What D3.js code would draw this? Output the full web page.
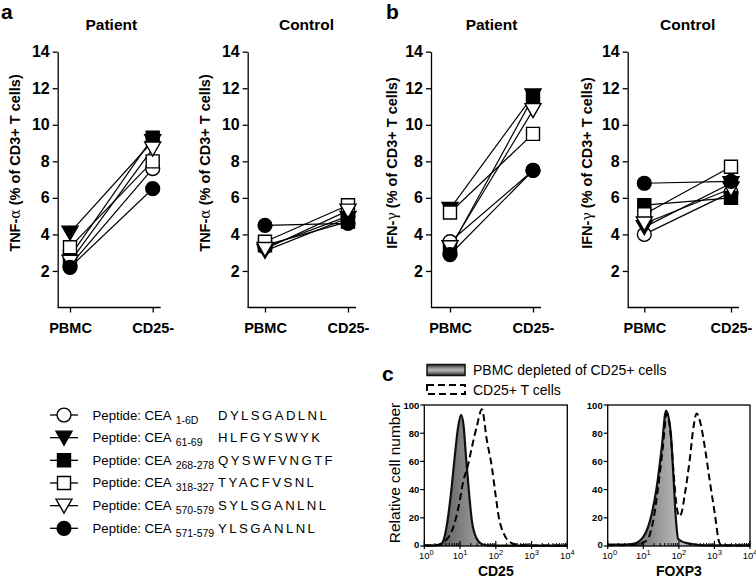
<!DOCTYPE html>
<html><head><meta charset="utf-8">
<script src="https://cdn.jsdelivr.net/npm/d3@7"></script>
<style>
body{margin:0;background:#fff;}
svg{font-family:Arial,"Liberation Sans",sans-serif;}
</style></head>
<body>
<svg id="c" width="756" height="584"></svg>
<script>
// ---------- DATA ----------
const categories = ["PBMC", "CD25-"];
const yTicks = [2, 4, 6, 8, 10, 12, 14];
const peptides = ["1-6D", "61-69", "268-278", "318-327", "570-579", "571-579"];
const sequences = ["DYLSGADLNL", "HLFGYSWYK", "QYSWFVNGTF", "TYACFVSNL", "SYLSGANLNL", "YLSGANLNL"];
const markerTypes = ["circleOpen", "triFilled", "squareFilled", "squareOpen", "triOpen", "circleFilled"];

// values per peptide: [PBMC, CD25-]
const tnfPatient = [[2.3, 7.6], [4.1, 9.1], [2.8, 9.3], [3.3, 8.0], [2.5, 8.7], [2.2, 6.5]];
const tnfControl = [[3.3, 5.0], [3.1, 4.9], [3.4, 4.7], [3.6, 5.6], [3.2, 5.3], [4.5, 4.6]];
const ifnPatient = [[3.6, 7.5], [5.4, 11.6], [3.2, 11.5], [5.2, 9.5], [3.3, 10.8], [2.9, 7.5]];
const ifnControl = [[4.0, 6.3], [4.4, 6.8], [5.6, 6.0], [5.1, 7.7], [4.6, 6.5], [6.8, 6.9]];

// histograms: [log10 fluorescence, relative cell number]
const cd25Depleted = [[0,0.5],[0.3,0.5],[0.45,1],[0.55,5],[0.65,18],[0.75,38],[0.85,63],[0.95,85],[1.03,93],[1.1,85],[1.17,62],[1.25,38],[1.33,18],[1.45,6],[1.6,1.5],[1.75,0.5],[2.5,0.3],[4,0.3]];
const cd25Positive = [[0,0.3],[0.3,0.5],[0.6,4],[0.82,14],[0.96,28],[1.1,47],[1.21,56],[1.33,70],[1.47,85],[1.61,97],[1.75,75],[1.89,56],[1.99,37],[2.08,21],[2.22,9],[2.45,2],[2.8,0.5],[4,0.3]];
const foxp3Depleted = [[0,1],[0.5,1],[0.72,1.5],[1.0,6.5],[1.19,18],[1.38,42],[1.52,70],[1.64,96],[1.77,81],[1.84,53],[1.92,18],[1.98,5],[2.22,2],[2.7,0.5],[4,0.5]];
const foxp3Positive = [[0,0.5],[0.8,1],[1.1,4],[1.28,18],[1.42,42],[1.55,70],[1.66,94],[1.77,79],[1.84,56],[1.92,32],[2.01,21],[2.08,24],[2.17,37],[2.3,60],[2.41,84],[2.5,94],[2.6,88],[2.73,70],[2.87,46],[3.01,23],[3.13,3],[3.2,0.5],[4,0.3]];
const histYTicks = [0, 20, 40, 60, 80, 100];
const histXTicks = [0, 1, 2, 3, 4];
const legendHist = ["PBMC depleted of CD25+ cells", "CD25+ T cells"];

// ---------- DRAW ----------
const svg = d3.select("#c");
const defs = svg.append("defs");
const g1 = defs.append("linearGradient").attr("id", "grayH").attr("x1", 0).attr("x2", 1).attr("y1", 0).attr("y2", 0);
[[0, "#444"], [0.3, "#8a8a8a"], [0.5, "#bcbcbc"], [0.7, "#a8a8a8"], [1, "#555"]].forEach(s => g1.append("stop").attr("offset", s[0]).attr("stop-color", s[1]));
const g2 = defs.append("linearGradient").attr("id", "grayV").attr("x1", 0).attr("x2", 0).attr("y1", 0).attr("y2", 1);
[[0, "#2a2a2a"], [0.3, "#888"], [0.5, "#b8b8b8"], [0.7, "#888"], [1, "#2a2a2a"]].forEach(s => g2.append("stop").attr("offset", s[0]).attr("stop-color", s[1]));

function markerPath(type) {
  if (type.startsWith("circle")) return d3.symbol(d3.symbolCircle, 150)();
  if (type.startsWith("square")) return "M-6.5,-6.5H6.5V6.5H-6.5Z";
  return "M-8,-6.5H8L0,7.5Z";
}
function drawMarker(sel, type, x, y) {
  sel.append("path").attr("d", markerPath(type))
    .attr("transform", `translate(${x},${y})`)
    .attr("fill", type.endsWith("Filled") ? "#000" : "#fff")
    .attr("stroke", "#000").attr("stroke-width", 1.4);
}

const y = d3.scaleLinear().domain([0, 14]).range([307.5, 51.7]);
const panels = [
  {axisX: 57.7, xr: [70, 152.7], data: tnfPatient, title: "Patient", ylab: "TNF-", greek: "α", labX: 20},
  {axisX: 247.7, xr: [265, 348], data: tnfControl, title: "Control", ylab: "TNF-", greek: "α", labX: 210},
  {axisX: 431, xr: [450, 533], data: ifnPatient, title: "Patient", ylab: "IFN-", greek: "γ", labX: 397},
  {axisX: 627.7, xr: [644.3, 731], data: ifnControl, title: "Control", ylab: "IFN-", greek: "γ", labX: 592},
];

panels.forEach(p => {
  const g = svg.append("g");
  const x = d3.scalePoint().domain(categories).range(p.xr);
  const ya = g.append("g").attr("transform", `translate(${p.axisX},0)`)
    .call(d3.axisLeft(y).tickValues(yTicks).tickSize(5).tickPadding(3).tickSizeOuter(0));
  ya.select(".domain").attr("stroke", "#000").attr("stroke-width", 1.3);
  ya.selectAll(".tick line").attr("stroke-width", 1.3);
  ya.selectAll("text").attr("font-family", "Arial, Liberation Sans, sans-serif").attr("font-size", 16).attr("font-weight", "bold").attr("fill", "#000");
  const xa = g.append("g").attr("transform", `translate(0,${y(0)})`)
    .call(d3.axisBottom(x).tickSize(5).tickPadding(10));
  xa.select(".domain").attr("d", `M${p.axisX},0H${p.xr[1] + 8}`).attr("stroke-width", 1.3);
  xa.selectAll(".tick line").attr("stroke-width", 1.3);
  xa.selectAll("text").attr("font-family", "Arial, Liberation Sans, sans-serif").attr("font-size", 14.5).attr("font-weight", "bold").attr("fill", "#000");
  g.append("text").attr("x", (p.xr[0] + p.xr[1]) / 2).attr("y", 30).attr("text-anchor", "middle")
    .attr("font-size", 15.5).attr("font-weight", "bold").text(p.title);
  const t = g.append("text").attr("transform", `translate(${p.labX},163) rotate(-90)`)
    .attr("text-anchor", "middle").attr("font-size", 14.5).attr("font-weight", "bold");
  t.append("tspan").text(p.ylab);
  t.append("tspan").attr("font-family", "DejaVu Serif, serif").attr("font-weight", "normal").attr("font-size", 14).text(p.greek);
  t.append("tspan").text(" (% of CD3+ T cells)");
  p.data.forEach(d => {
    g.append("line").attr("x1", x(categories[0])).attr("y1", y(d[0]))
      .attr("x2", x(categories[1])).attr("y2", y(d[1])).attr("stroke", "#000").attr("stroke-width", 1.2);
  });
  p.data.forEach((d, i) => {
    drawMarker(g, markerTypes[i], x(categories[0]), y(d[0]));
    drawMarker(g, markerTypes[i], x(categories[1]), y(d[1]));
  });
});

// panel letters
svg.append("text").attr("x", 1).attr("y", 19).attr("font-size", 21).attr("font-weight", "bold").text("a");
svg.append("text").attr("x", 386).attr("y", 19).attr("font-size", 21).attr("font-weight", "bold").text("b");
svg.append("text").attr("x", 382).attr("y", 381).attr("font-size", 21).attr("font-weight", "bold").text("c");

// peptide legend
const legY = d3.scalePoint().domain(peptides).range([415, 528.3]);
peptides.forEach((pep, i) => {
  const yy = legY(pep);
  svg.append("line").attr("x1", 50).attr("x2", 78).attr("y1", yy).attr("y2", yy).attr("stroke", "#000").attr("stroke-width", 1.3);
  drawMarker(svg, markerTypes[i], 64, yy);
  const t = svg.append("text").attr("x", 92.5).attr("y", yy + 4.5).attr("font-size", 13.2);
  t.append("tspan").text("Peptide: CEA");
  t.append("tspan").attr("font-size", 10.5).attr("dx", 4).attr("dy", 4).text(pep);
  const end = 92.5 + t.node().getComputedTextLength() + 4;
  svg.append("text").attr("x", Math.max(218, end + 3)).attr("y", yy + 4.5).attr("font-size", 13.2)
    .attr("letter-spacing", 2.4).text(sequences[i]);
});

// histogram legend
svg.append("rect").attr("x", 427).attr("y", 364.5).attr("width", 38).attr("height", 11)
  .attr("fill", "url(#grayV)").attr("stroke", "#111").attr("stroke-width", 1.5);
svg.append("rect").attr("x", 427).attr("y", 385).attr("width", 38).attr("height", 9)
  .attr("fill", "none").attr("stroke", "#000").attr("stroke-width", 2).attr("stroke-dasharray", "7,4");
svg.append("text").attr("x", 473).attr("y", 375).attr("font-size", 14).text(legendHist[0]);
svg.append("text").attr("x", 473).attr("y", 395).attr("font-size", 14).text(legendHist[1]);

// histograms
const hy = d3.scaleLinear().domain([0, 100]).range([546, 405]);
const hists = [
  {x0: 424.3, x1: 567.3, dep: cd25Depleted, pos: cd25Positive, label: "CD25"},
  {x0: 607.7, x1: 750, dep: foxp3Depleted, pos: foxp3Positive, label: "FOXP3"},
];
hists.forEach(h => {
  const g = svg.append("g");
  const hx = d3.scaleLinear().domain([0, 4]).range([h.x0, h.x1]);
  const line = d3.line().x(d => hx(d[0])).y(d => hy(d[1])).curve(d3.curveMonotoneX);
  const area = d3.area().x(d => hx(d[0])).y0(hy(0)).y1(d => hy(d[1])).curve(d3.curveMonotoneX);
  g.append("path").attr("d", area(h.dep)).attr("fill", "url(#grayH)");
  g.append("path").attr("d", line(h.dep)).attr("fill", "none").attr("stroke", "#111").attr("stroke-width", 2.2);
  g.append("path").attr("d", line(h.pos)).attr("fill", "none").attr("stroke", "#000").attr("stroke-width", 2).attr("stroke-dasharray", "7,4");
  g.append("rect").attr("x", h.x0).attr("y", hy(100)).attr("width", h.x1 - h.x0).attr("height", hy(0) - hy(100))
    .attr("fill", "none").attr("stroke", "#000").attr("stroke-width", 1.3);
  histYTicks.forEach(v => {
    g.append("line").attr("x1", h.x0 - 4).attr("x2", h.x0).attr("y1", hy(v)).attr("y2", hy(v)).attr("stroke", "#000").attr("stroke-width", 1.2);
    g.append("text").attr("x", h.x0 - 5).attr("y", hy(v) + (v === 0 ? 2 : 3.5)).attr("text-anchor", "end")
      .attr("font-size", 9.5).attr("font-weight", "bold").text(v);
  });
  histXTicks.forEach(v => {
    g.append("line").attr("x1", hx(v)).attr("x2", hx(v)).attr("y1", hy(0) + 3).attr("y2", hy(0) - 5).attr("stroke", "#000").attr("stroke-width", 1.2);
    const t = g.append("text").attr("x", hx(v) + (v === 0 ? 2 : 0)).attr("y", 559).attr("text-anchor", "middle").attr("font-size", 9.5);
    t.append("tspan").text("10");
    t.append("tspan").attr("font-size", 7.5).attr("dy", -4).text(v);
    if (v < 4) {
      for (let k = 2; k <= 9; k++) {
        const lv = v + Math.log10(k);
        g.append("line").attr("x1", hx(lv)).attr("x2", hx(lv)).attr("y1", hy(0)).attr("y2", hy(0) - 3).attr("stroke", "#000").attr("stroke-width", 1);
      }
    }
  });
  g.append("text").attr("x", (h.x0 + h.x1) / 2).attr("y", 576).attr("text-anchor", "middle")
    .attr("font-size", 14).attr("font-weight", "bold").text(h.label);
});
svg.append("text").attr("transform", "translate(400,473) rotate(-90)").attr("text-anchor", "middle")
  .attr("font-size", 15.5).text("Relative cell number");
</script>
</body></html>
